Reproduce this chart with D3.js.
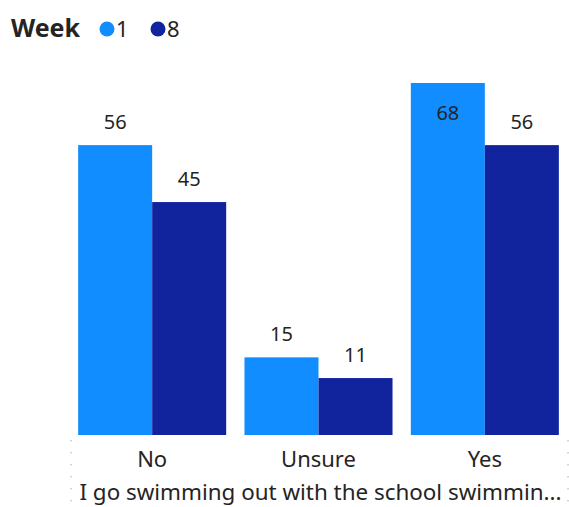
<!DOCTYPE html>
<html>
<head>
<meta charset="utf-8">
<script src="https://cdn.jsdelivr.net/npm/d3@7"></script>
<style>
  html, body { margin: 0; padding: 0; background: #ffffff; }
  svg { display: block; font-family: "Segoe UI", "Noto Sans", sans-serif; }
</style>
</head>
<body>
<svg id="chart" width="569" height="507"></svg>
<script>
// Survey answers by week
const categories = ["No", "Unsure", "Yes"];
const weeks = ["1", "8"];
const week1Values = [56, 15, 68];
const week8Values = [45, 11, 56];
const seriesColors = ["#118DFF", "#12239E"];
const legendTitle = "Week";
const axisTitle = "I go swimming out with the school swimmin...";

const series = [week1Values, week8Values];
const rows = categories.map((c, i) => ({
  category: c,
  values: weeks.map((w, j) => ({ week: w, value: series[j][i], idx: j }))
}));

const svg = d3.select("#chart");

const plot = { left: 69, right: 568, top: 83, bottom: 435 };

const x0 = d3.scaleBand()
  .domain(categories)
  .range([plot.left, plot.right])
  .paddingInner(0.11)
  .paddingOuter(0.055);

const x1 = d3.scaleBand()
  .domain(weeks)
  .range([0, x0.bandwidth()])
  .padding(0);

const y = d3.scaleLinear()
  .domain([0, d3.max(series.flat())])
  .range([plot.bottom, plot.top]);

const color = d3.scaleOrdinal().domain(weeks).range(seriesColors);

// Dotted frame edges below the plot
[plot.left + 2, plot.right].forEach(xp => {
  svg.append("line")
    .attr("x1", xp).attr("x2", xp)
    .attr("y1", 440).attr("y2", 507)
    .attr("stroke", "#c8c8c8")
    .attr("stroke-width", 1.5)
    .attr("stroke-dasharray", "1.5 10.5");
});

// Bars
const groups = svg.append("g").selectAll("g")
  .data(rows)
  .join("g")
  .attr("transform", d => `translate(${x0(d.category)},0)`);

groups.selectAll("rect")
  .data(d => d.values)
  .join("rect")
  .attr("x", d => x1(d.week))
  .attr("y", d => y(d.value))
  .attr("width", x1.bandwidth())
  .attr("height", d => y(0) - y(d.value))
  .attr("fill", d => color(d.week));

// Data labels: above the bar, or inside its top when there is no room above
groups.selectAll("text.value")
  .data(d => d.values)
  .join("text")
  .attr("class", "value")
  .attr("x", d => x1(d.week) + x1.bandwidth() / 2)
  .attr("y", d => {
    const top = y(d.value);
    return top - 16 < 100 ? top + 37 : top - 16;
  })
  .attr("text-anchor", "middle")
  .attr("font-size", 20)
  .attr("fill", "#252423")
  .text(d => d.value);

// Category axis (labels only)
const xAxis = d3.axisBottom(x0).tickSize(0).tickPadding(0);
const axisG = svg.append("g")
  .attr("transform", `translate(0,${plot.bottom})`)
  .call(xAxis);
axisG.select(".domain").remove();
axisG.selectAll("text")
  .attr("font-size", 22)
  .attr("font-family", "\"Segoe UI\", \"Noto Sans\", sans-serif")
  .attr("fill", "#252423")
  .attr("dy", null)
  .attr("y", 32);

// Axis title
svg.append("text")
  .attr("x", (plot.left + plot.right) / 2 + 2)
  .attr("y", 500)
  .attr("text-anchor", "middle")
  .attr("font-size", 22.4)
  .attr("fill", "#252423")
  .text(axisTitle);

// Legend
const legend = svg.append("g");
legend.append("text")
  .attr("x", 11)
  .attr("y", 37)
  .attr("font-size", 25)
  .attr("font-weight", "bold")
  .attr("fill", "#252423")
  .text(legendTitle);

const legendX = [107, 158];
weeks.forEach((w, i) => {
  legend.append("circle")
    .attr("cx", legendX[i])
    .attr("cy", 29)
    .attr("r", 7.5)
    .attr("fill", color(w));
  legend.append("text")
    .attr("x", legendX[i] + 9)
    .attr("y", 37)
    .attr("font-size", 22)
    .attr("fill", "#252423")
    .text(w);
});
</script>
</body>
</html>
